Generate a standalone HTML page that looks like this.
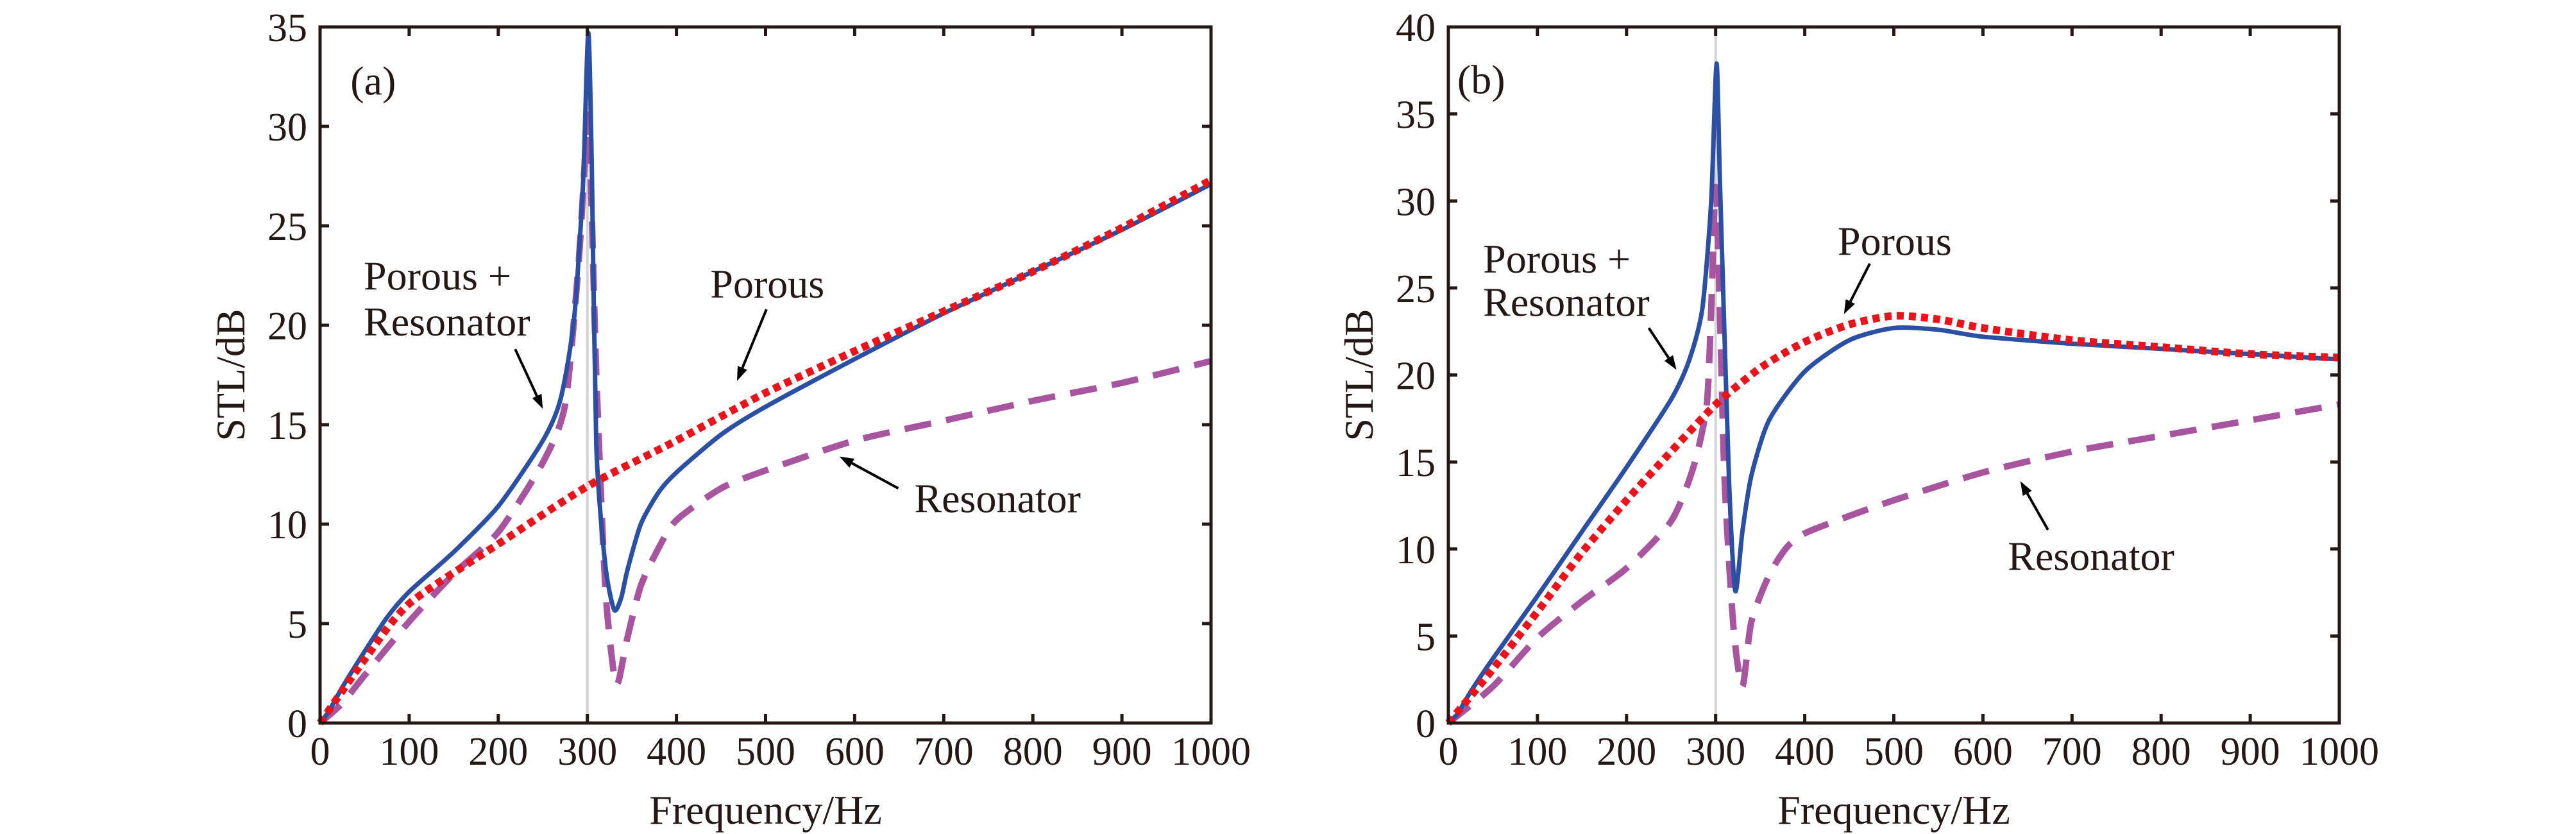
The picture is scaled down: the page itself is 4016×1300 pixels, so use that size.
<!DOCTYPE html>
<html><head><meta charset="utf-8"><style>
html,body{margin:0;padding:0;background:#fff}
svg{display:block}
text{font-family:"Liberation Serif",serif;fill:#231815}
</style></head>
<body>
<svg id="fig" width="4016" height="1300" viewBox="0 0 4016 1300" xmlns="http://www.w3.org/2000/svg"></svg>
<script>
// ---- Panel (a) data ----
const aBlueF = [0,10,25,50,75,100,150,200,250,270,285,295,301,305,310,320,330,338,345,360,380,400,450,500,600,700,800,900,1000];
const aBlueV = [0,0.6,1.8,3.6,5.3,6.6,8.6,10.9,14.2,16.3,20.3,27,34.7,28,14,8,5.7,6.3,7.7,10.0,11.6,12.6,14.5,15.9,18.3,20.6,22.7,24.8,27.1];
const aRedF = [0,50,100,200,300,400,500,600,700,800,900,1000];
const aRedV = [0,3.2,6.0,9.0,11.9,14.2,16.6,18.7,20.7,22.7,24.9,27.3];
const aPurF = [0,25,50,100,150,200,250,275,290,298,301,305,310,320,330,335,345,360,380,400,450,500,600,700,800,900,1000];
const aPurV = [0,1,2.4,5.1,7.5,9.6,13.1,16,23,28.9,30.5,25.6,17.6,6.9,2.4,2.1,4.3,6.9,8.8,10.2,11.8,12.7,14.2,15.2,16.2,17.1,18.2];
// ---- Panel (b) data ----
const bBlueF = [0,10,25,50,100,150,200,250,270,285,295,301,305,315,322,330,340,360,400,450,500,550,600,700,800,900,1000];
const bBlueV = [0,0.5,1.8,3.7,7.3,11,14.7,18.6,20.8,23.8,30,37.9,30.8,14,7.6,11,14.2,17.4,20.2,22,22.7,22.6,22.2,21.8,21.5,21.2,20.9];
const bRedF = [0,50,100,150,200,250,300,350,400,450,500,550,600,700,800,900,1000];
const bRedV = [0,3.1,6.4,9.8,12.8,15.6,18.3,20.4,21.9,22.9,23.4,23.2,22.7,22,21.6,21.2,21.0];
const bPurF = [0,50,100,150,200,250,275,290,295,300,305,310,320,330,340,360,380,400,450,500,600,700,800,900,1000];
const bPurV = [0,2.1,4.9,7,8.9,11.6,14.7,18.3,23.8,30.8,23.2,14,5.5,2.1,5.8,8.5,10.1,10.9,11.9,12.8,14.4,15.6,16.5,17.4,18.3];
const xTicks = [0,100,200,300,400,500,600,700,800,900,1000];
const aYTicks = [0,5,10,15,20,25,30,35];
const bYTicks = [0,5,10,15,20,25,30,35,40];

const NS='http://www.w3.org/2000/svg';
const svg=document.getElementById('fig');
function mk(tag,attrs,parent){const e=document.createElementNS(NS,tag);for(const k in attrs)e.setAttribute(k,attrs[k]);(parent||svg).appendChild(e);return e;}
function smooth(P){
  let d='M'+P[0][0].toFixed(1)+','+P[0][1].toFixed(1);
  for(let i=0;i<P.length-1;i++){
    const p0=P[Math.max(0,i-1)],p1=P[i],p2=P[i+1],p3=P[Math.min(P.length-1,i+2)];
    const t=0.12;
    const c1=[p1[0]+(p2[0]-p0[0])*t,p1[1]+(p2[1]-p0[1])*t];
    const c2=[p2[0]-(p3[0]-p1[0])*t,p2[1]-(p3[1]-p1[1])*t];
    d+=' C'+c1[0].toFixed(1)+','+c1[1].toFixed(1)+' '+c2[0].toFixed(1)+','+c2[1].toFixed(1)+' '+p2[0].toFixed(1)+','+p2[1].toFixed(1);
  }
  return d;
}

function panel(id,left,ymax,yTicks,series,labels){
  const right=left+1389, top=42, bottom=1127;
  const g=mk('g',{});
  
  
  const X=f=>left+(f/1000)*(right-left);
  const Y=v=>bottom-(v/ymax)*(bottom-top);
  const ref=mk('line',{x1:X(300),x2:X(300),y1:top,y2:bottom,stroke:'#d4d4d4','stroke-width':4},g);
  
  
  series.forEach(s=>{
    const P=s.f.map((f,i)=>[X(f),Y(s.v[i])]);
    const p=mk('path',{d:smooth(P),fill:'none',stroke:s.color,'stroke-width':s.w,'stroke-dasharray':s.dash||'none','stroke-linejoin':'round'},g);
    
    
  });
  const box=mk('rect',{x:left,y:top,width:right-left,height:bottom-top,fill:'none',stroke:'#231815','stroke-width':5},g);
  
  
  xTicks.forEach(t=>{
    mk('line',{x1:X(t),x2:X(t),y1:bottom,y2:bottom-14,stroke:'#231815','stroke-width':5},g);
    mk('line',{x1:X(t),x2:X(t),y1:top,y2:top+14,stroke:'#231815','stroke-width':5},g);
    const tl=mk('text',{x:X(t),y:1192,'text-anchor':'middle','font-size':62},g);
    tl.textContent=t;
    
    
  });
  yTicks.forEach(t=>{
    mk('line',{x1:left,x2:left+14,y1:Y(t),y2:Y(t),stroke:'#231815','stroke-width':5},g);
    mk('line',{x1:right,x2:right-14,y1:Y(t),y2:Y(t),stroke:'#231815','stroke-width':5},g);
    const tl=mk('text',{x:left-20,y:Y(t)+22,'text-anchor':'end','font-size':62},g);
    tl.textContent=t;
    
    
  });
  const xt=mk('text',{x:(left+right)/2,y:1284,'text-anchor':'middle','font-size':64},g);
  xt.textContent='Frequency/Hz';
  
  
  const yt=mk('text',{x:0,y:0,'text-anchor':'middle','font-size':64,transform:'translate('+(left-118)+','+((top+bottom)/2)+') rotate(-90)'},g);
  yt.textContent='STL/dB';
  
  
  labels.forEach(l=>{
    const t=mk('text',{x:X(l.f),y:Y(l.v)+22,'font-size':64},g);
    t.textContent=l.t;
    
    
    if(l.a){
      const [f1,v1,f2,v2]=l.a;
      const x1=X(f1),y1=Y(v1),x2=X(f2),y2=Y(v2);
      const ang=Math.atan2(y2-y1,x2-x1);
      const hl=22,hw=8;
      const bx=x2-hl*Math.cos(ang),by=y2-hl*Math.sin(ang);
      const ar=mk('g',{},g);
      
      
      mk('line',{x1:x1,y1:y1,x2:bx,y2:by,stroke:'#000','stroke-width':4},ar);
      mk('polygon',{points:x2+','+y2+' '+(bx+hw*Math.sin(ang))+','+(by-hw*Math.cos(ang))+' '+(bx-hw*Math.sin(ang))+','+(by+hw*Math.cos(ang)),fill:'#000'},ar);
    }
  });
}
const blue='#2a4fa3', red='#e8131b', pur='#a855a0';
panel('a',499,35,aYTicks,[
  {name:'resonator-curve',f:aPurF,v:aPurV,color:pur,w:10,dash:'42 24'},
  {name:'porous-resonator-curve',f:aBlueF,v:aBlueV,color:blue,w:7},
  {name:'porous-curve',f:aRedF,v:aRedV,color:red,w:12,dash:'11 8'}
],[
  {t:'(a)',f:34,v:32.3,name:'panel-label-a'},
  {t:'Porous +',f:49,v:22.5,name:'label-porous-plus-resonator-l1'},
  {t:'Resonator',f:49,v:20.2,name:'label-porous-plus-resonator',a:[219,18.8,250,15.8]},
  {t:'Porous',f:438,v:22.1,name:'label-porous',a:[501,20.8,468,17.2]},
  {t:'Resonator',f:667,v:11.3,name:'label-resonator',a:[649,11.8,583,13.4]}
]);
panel('b',2258,40,bYTicks,[
  {name:'resonator-curve',f:bPurF,v:bPurV,color:pur,w:10,dash:'42 24'},
  {name:'porous-resonator-curve',f:bBlueF,v:bBlueV,color:blue,w:7},
  {name:'porous-curve',f:bRedF,v:bRedV,color:red,w:12,dash:'11 8'}
],[
  {t:'(b)',f:10,v:37,name:'panel-label-b'},
  {t:'Porous +',f:39,v:26.7,name:'label-porous-plus-resonator-l1'},
  {t:'Resonator',f:39,v:24.2,name:'label-porous-plus-resonator',a:[225,22.7,256,20.3]},
  {t:'Porous',f:437,v:27.7,name:'label-porous',a:[473,26.4,444,23.5]},
  {t:'Resonator',f:628,v:9.6,name:'label-resonator',a:[673,11.1,642,13.9]}
]);
</script>
</body></html>
